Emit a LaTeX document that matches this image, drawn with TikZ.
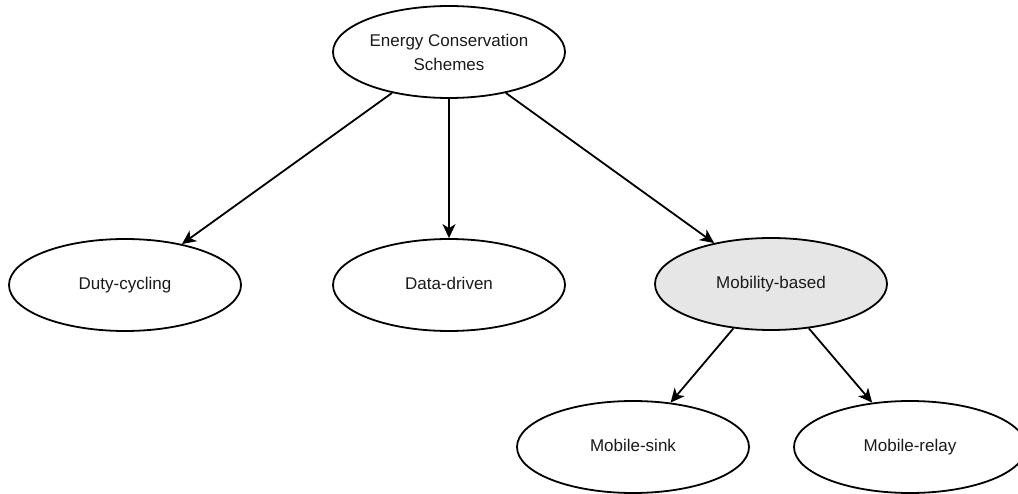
\documentclass[tikz,border=0pt]{standalone}
\usepackage{fontspec}
\setmainfont{Liberation Sans}
\usetikzlibrary{shapes.geometric,arrows.meta}
\definecolor{hilite}{HTML}{E6E6E6}
\definecolor{txt}{HTML}{1A1A1A}
\begin{document}
\begin{tikzpicture}[x=1pt,y=-1pt,
  oval/.style={ellipse,draw=black,line width=1.8pt,fill=white,
    minimum width=232pt,minimum height=92pt,inner sep=0pt,
    font=\fontsize{17}{24}\selectfont,text=txt,align=center},
  single/.style={oval,text height=12.5pt,text depth=3.5pt},
  link/.style={line width=1.8pt,-{Stealth[length=14pt,width=13pt,inset=4pt]}}]
\useasboundingbox (0,0) rectangle (1018,494);
\clip (0,0) rectangle (1018,494);
% top level
\node[oval] (root)  at (449,52)  {Energy Conservation\\Schemes};
% categories
\node[single] (duty)  at (125,285) {Duty-cycling};
\node[single] (data)  at (449,285) {Data-driven};
\node[single,fill=hilite] (mob) at (771,284) {Mobility-based};
% mobility sub-types
\node[single] (sink)  at (633,447) {Mobile-sink};
\node[single] (relay) at (910,447) {Mobile-relay};
\draw[link] (root) -- (duty);
\draw[link] (root) -- (data);
\draw[link] (root) -- (mob);
\draw[link] (mob) -- (sink);
\draw[link] (mob) -- (relay);
\end{tikzpicture}
\end{document}
